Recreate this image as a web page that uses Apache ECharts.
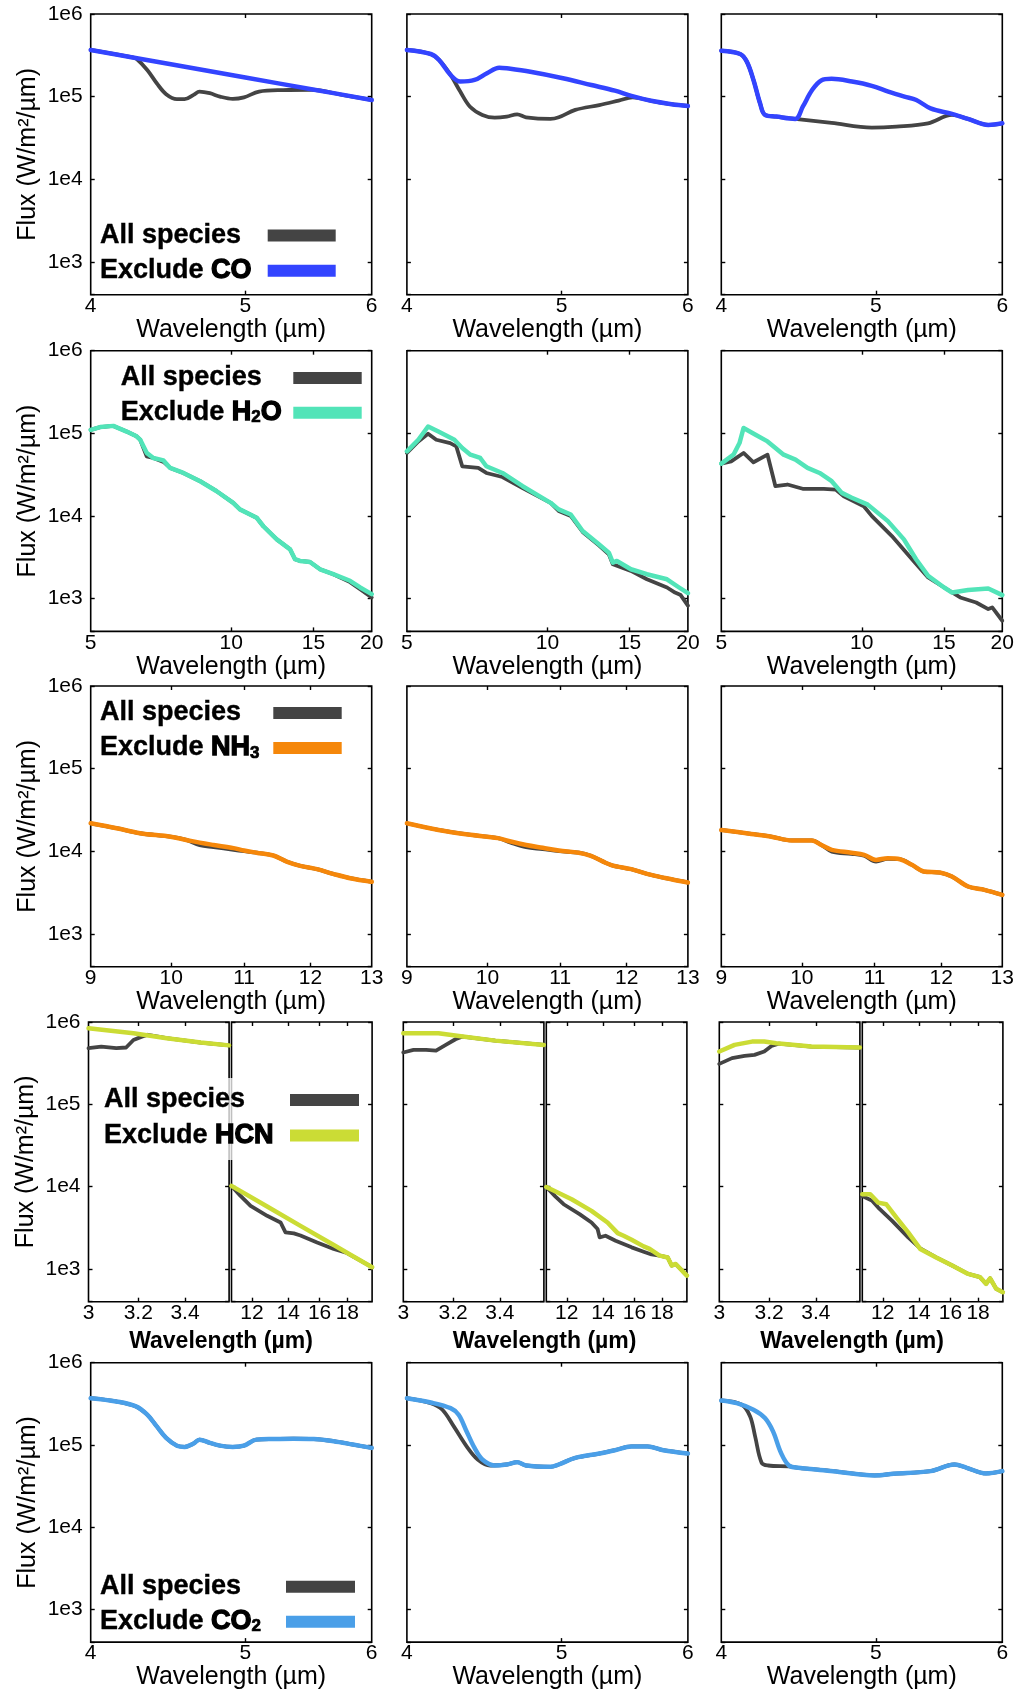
<!DOCTYPE html>
<html><head><meta charset="utf-8">
<script src="https://cdn.jsdelivr.net/npm/echarts@6.0.0/dist/echarts.min.js"></script>
<style>html,body{margin:0;padding:0;background:#fff}#c{width:1019px;height:1691px}</style>
</head><body><div id="c"></div>
<script>
// ---------------- DATA: [wavelength (µm), flux (W/m²/µm)] ----------------
// Row 1 — CO, 4–6 µm
const coAll1 = [[4,3.67e5],[4.25,2.98e5],[4.27,2.91e5],[4.34,2.1e5],[4.4,1.45e5],[4.46,1.07e5],[4.53,9.3e4],[4.58,9.3e4],[4.64,1.05e5],[4.68,1.15e5],[4.75,1.1e5],[4.82,1.0e5],[4.91,9.4e4],[4.99,9.8e4],[5.1,1.15e5],[5.28,1.2e5],[5.5,1.21e5],[5.75,1.05e5],[6,9.1e4]];
const coEx1  = [[4,3.67e5],[4.25,2.98e5],[4.5,2.45e5],[5,1.7e5],[5.5,1.23e5],[6,9.1e4]];
const coAll2 = [[4,3.67e5],[4.14,3.28e5],[4.19,2.78e5],[4.26,1.83e5],[4.32,1.15e5],[4.38,7.6e4],[4.46,6.0e4],[4.54,5.57e4],[4.62,5.73e4],[4.69,6.1e4],[4.75,5.62e4],[4.92,5.37e4],[4.98,5.62e4],[5.1,6.9e4],[5.28,7.9e4],[5.43,8.95e4],[5.54,9.8e4],[5.69,8.9e4],[5.86,8.1e4],[6,7.7e4]];
const coEx2  = [[4,3.67e5],[4.14,3.28e5],[4.19,2.78e5],[4.26,1.83e5],[4.32,1.52e5],[4.41,1.59e5],[4.49,1.92e5],[4.57,2.24e5],[4.62,2.2e5],[4.78,2.0e5],[5.01,1.67e5],[5.22,1.38e5],[5.4,1.18e5],[5.53,1.02e5],[5.69,8.9e4],[5.86,8.1e4],[6,7.7e4]];
const coAll3 = [[4,3.6e5],[4.11,3.28e5],[4.15,2.65e5],[4.19,1.59e5],[4.23,8.3e4],[4.26,6.0e4],[4.33,5.73e4],[4.45,5.37e4],[4.69,4.8e4],[4.97,4.22e4],[5.15,4.34e4],[5.39,4.75e4],[5.58,6.0e4],[5.71,5.37e4],[5.88,4.54e4],[6,4.75e4]];
const coEx3  = [[4,3.6e5],[4.11,3.28e5],[4.15,2.65e5],[4.19,1.59e5],[4.23,8.3e4],[4.26,6.0e4],[4.33,5.73e4],[4.45,5.37e4],[4.5,7.6e4],[4.56,1.2e5],[4.62,1.57e5],[4.69,1.64e5],[4.83,1.52e5],[4.97,1.35e5],[5.09,1.15e5],[5.21,1.0e5],[5.3,9.1e4],[5.41,7.2e4],[5.58,6.17e4],[5.71,5.37e4],[5.88,4.54e4],[6,4.75e4]];
// Row 2 — H2O, 5–20 µm
const h2oAll1 = [[5,1.1e5],[5.24,1.19e5],[5.59,1.23e5],[5.97,1.05e5],[6.27,9.2e4],[6.38,8.4e4],[6.59,5.27e4],[6.81,5.03e4],[7.16,4.5e4],[7.4,3.81e4],[7.9,3.31e4],[8.58,2.63e4],[9.31,1.99e4],[10.1,1.44e4],[10.44,1.2e4],[11.34,9.5e3],[11.72,7.5e3],[12.52,5.2e3],[13.37,3.94e3],[13.7,2.99e3],[14.04,2.85e3],[14.75,2.77e3],[15.5,2.26e3],[16.55,1.97e3],[17.97,1.58e3],[18.89,1.3e3],[20,1.03e3]];
const h2oEx1  = [[5,1.1e5],[5.24,1.19e5],[5.59,1.23e5],[5.97,1.05e5],[6.27,9.2e4],[6.38,8.4e4],[6.59,5.8e4],[6.81,5.03e4],[7.16,4.7e4],[7.4,3.81e4],[7.9,3.31e4],[8.58,2.63e4],[9.31,1.99e4],[10.1,1.44e4],[10.44,1.2e4],[11.34,9.5e3],[11.72,7.5e3],[12.52,5.2e3],[13.37,3.94e3],[13.7,2.99e3],[14.04,2.85e3],[14.75,2.77e3],[15.5,2.26e3],[16.55,1.97e3],[17.97,1.64e3],[18.89,1.36e3],[20,1.13e3]];
const h2oAll2 = [[5,5.78e4],[5.29,7.98e4],[5.55,9.9e4],[5.78,8.36e4],[6.19,7.62e4],[6.38,6.95e4],[6.57,3.99e4],[7.11,3.81e4],[7.4,3.31e4],[8.01,2.96e4],[8.85,2.18e4],[10.16,1.44e4],[10.57,1.15e4],[11.22,1.0e4],[11.9,6.4e3],[12.89,4.4e3],[13.54,3.43e3],[13.81,2.6e3],[15.1,2.16e3],[16.34,1.71e3],[18.04,1.36e3],[18.77,1.18e3],[19.3,1.1e3],[20,8.2e2]];
const h2oEx2  = [[5,6.05e4],[5.29,8.36e4],[5.55,1.21e5],[5.84,1.05e5],[6.32,8.36e4],[6.57,6.64e4],[6.84,5.51e4],[7.18,5.03e4],[7.4,3.99e4],[8.01,3.31e4],[8.85,2.29e4],[10.16,1.44e4],[10.57,1.2e4],[11.22,1.04e4],[11.9,6.56e3],[12.89,4.53e3],[13.54,3.59e3],[13.81,2.72e3],[14.09,2.85e3],[15.1,2.26e3],[16.34,1.97e3],[18.04,1.71e3],[19.15,1.36e3],[20,1.16e3]];
const h2oAll3 = [[5,4.3e4],[5.25,4.58e4],[5.58,5.78e4],[5.86,4.46e4],[6.28,5.51e4],[6.53,2.29e4],[6.93,2.4e4],[7.5,2.12e4],[8.29,2.12e4],[8.79,2.08e4],[9.15,1.73e4],[10.1,1.31e4],[10.51,9.95e3],[11.6,5.7e3],[12.81,2.99e3],[13.87,1.8e3],[15.01,1.36e3],[16.25,1.03e3],[17.58,8.95e2],[18.66,7.45e2],[19.03,7.8e2],[20,5.38e2]];
const h2oEx3  = [[5,4.3e4],[5.31,5.51e4],[5.47,7.62e4],[5.58,1.16e5],[5.92,9.6e4],[6.28,7.98e4],[6.8,5.51e4],[7.21,4.8e4],[7.65,3.81e4],[8.12,3.31e4],[8.62,2.63e4],[9.06,1.9e4],[9.52,1.66e4],[10.3,1.37e4],[11.37,8.65e3],[12.31,5.2e3],[13.07,2.99e3],[13.87,1.88e3],[15.01,1.36e3],[15.61,1.18e3],[16.9,1.27e3],[18.66,1.32e3],[20,1.1e3]];
// Row 3 — NH3, 9–13 µm
const nh3All1 = [[9,2.18e4],[9.31,1.9e4],[9.6,1.65e4],[9.99,1.5e4],[10.2,1.37e4],[10.38,1.18e4],[10.57,1.12e4],[10.85,1.04e4],[11,1.0e4],[11.18,9.6e3],[11.43,8.87e3],[11.63,7.5e3],[11.84,6.65e3],[12.1,6.06e3],[12.36,5.32e3],[12.64,4.71e3],[13,4.26e3]];
const nh3Ex1  = [[9,2.18e4],[9.31,1.9e4],[9.6,1.65e4],[9.99,1.5e4],[10.2,1.37e4],[10.38,1.27e4],[10.57,1.19e4],[10.85,1.09e4],[11,1.02e4],[11.18,9.6e3],[11.43,8.87e3],[11.63,7.5e3],[11.84,6.65e3],[12.1,6.06e3],[12.36,5.32e3],[12.64,4.71e3],[13,4.26e3]];
const nh3All2 = [[9,2.18e4],[9.38,1.81e4],[9.78,1.58e4],[10.14,1.44e4],[10.31,1.27e4],[10.52,1.12e4],[10.75,1.06e4],[10.98,1.0e4],[11.27,9.6e3],[11.45,8.79e3],[11.75,6.84e3],[12.07,6.06e3],[12.39,5.17e3],[12.72,4.58e3],[13,4.18e3]];
const nh3Ex2  = [[9,2.18e4],[9.38,1.81e4],[9.78,1.58e4],[10.14,1.44e4],[10.31,1.31e4],[10.52,1.19e4],[10.75,1.1e4],[10.98,1.02e4],[11.27,9.6e3],[11.45,8.79e3],[11.75,6.84e3],[12.07,6.06e3],[12.39,5.17e3],[12.72,4.58e3],[13,4.18e3]];
const nh3All3 = [[9,1.81e4],[9.36,1.62e4],[9.61,1.5e4],[9.87,1.35e4],[10.13,1.35e4],[10.26,1.19e4],[10.4,9.9e3],[10.67,9.3e3],[10.85,8.8e3],[11.02,7.5e3],[11.19,8.1e3],[11.37,8.0e3],[11.55,6.84e3],[11.73,5.68e3],[11.98,5.52e3],[12.17,4.94e3],[12.43,3.74e3],[12.7,3.41e3],[13,2.96e3]];
const nh3Ex3  = [[9,1.81e4],[9.36,1.62e4],[9.61,1.5e4],[9.87,1.35e4],[10.13,1.35e4],[10.26,1.19e4],[10.4,1.04e4],[10.67,9.6e3],[10.85,9.03e3],[11.02,7.85e3],[11.19,8.23e3],[11.37,8.0e3],[11.55,6.84e3],[11.73,5.68e3],[11.98,5.52e3],[12.17,4.94e3],[12.43,3.74e3],[12.7,3.41e3],[13,2.96e3]];
// Row 4 — HCN, broken axis 3–3.6 µm | 11–20 µm
const hcnAll1L = [[3,4.81e5],[3.05,5.03e5],[3.11,4.81e5],[3.15,4.9e5],[3.18,6.05e5],[3.215,6.64e5],[3.24,7.0e5],[3.32,6.35e5],[3.47,5.62e5],[3.6,5.2e5]];
const hcnEx1L  = [[3,8.4e5],[3.18,7.3e5],[3.32,6.35e5],[3.47,5.62e5],[3.6,5.2e5]];
const hcnAll1R = [[11,1.02e4],[11.43,7.71e3],[11.93,5.84e3],[12.8,4.42e3],[13.55,3.67e3],[13.84,2.78e3],[14.34,2.7e3],[14.75,2.55e3],[15.83,2.1e3],[16.99,1.75e3],[17.98,1.56e3],[18.5,1.4e3],[20,1.05e3]];
const hcnEx1R  = [[11,1.02e4],[12.8,5.73e3],[14.75,3.34e3],[16.99,1.95e3],[18.24,1.49e3],[20,1.05e3]];
const hcnAll2L = [[3,4.26e5],[3.04,4.58e5],[3.09,4.58e5],[3.13,4.5e5],[3.17,5.27e5],[3.21,6.17e5],[3.24,6.65e5],[3.38,5.94e5],[3.6,5.27e5]];
const hcnEx2L  = [[3,7.3e5],[3.14,7.3e5],[3.24,6.65e5],[3.38,5.94e5],[3.6,5.27e5]];
const hcnAll2R = [[11,9.9e3],[11.44,7.57e3],[11.84,6.11e3],[12.67,4.63e3],[13.33,3.67e3],[13.68,3.05e3],[13.8,2.42e3],[14.15,2.53e3],[14.77,2.2e3],[15.81,1.83e3],[16.64,1.62e3],[17.21,1.5e3],[17.81,1.45e3],[18.43,1.38e3],[18.75,1.1e3],[19.07,1.15e3],[20,8.3e2]];
const hcnEx2R  = [[11,9.9e3],[12.25,7.03e3],[13.33,5.08e3],[14.27,3.67e3],[14.9,2.72e3],[15.28,2.53e3],[15.81,2.26e3],[16.64,1.88e3],[17.07,1.75e3],[17.81,1.45e3],[18.43,1.38e3],[18.75,1.1e3],[19.07,1.15e3],[20,8.3e2]];
const hcnAll3L = [[3,3.1e5],[3.05,3.64e5],[3.1,3.88e5],[3.14,3.99e5],[3.18,4.38e5],[3.21,5.12e5],[3.24,5.45e5],[3.38,5.03e5],[3.6,4.89e5]];
const hcnEx3L  = [[3,4.38e5],[3.06,5.27e5],[3.13,5.78e5],[3.18,5.78e5],[3.23,5.52e5],[3.38,5.03e5],[3.6,4.89e5]];
const hcnAll3R = [[11,7.71e3],[11.48,6.71e3],[11.77,5.57e3],[12.49,3.84e3],[13.37,2.42e3],[14.07,1.78e3],[15.06,1.38e3],[16.12,1.1e3],[17.25,8.7e2],[18.15,7.94e2],[18.62,6.59e2],[18.94,7.7e2],[19.44,5.73e2],[20,5.22e2]];
const hcnEx3R  = [[11,8.07e3],[11.38,8.07e3],[11.77,6.4e3],[12.18,6.11e3],[12.71,4.22e3],[13.37,2.78e3],[14.07,1.75e3],[15.06,1.38e3],[16.12,1.1e3],[17.25,8.7e2],[18.15,7.94e2],[18.62,6.59e2],[18.94,7.7e2],[19.44,5.73e2],[20,5.22e2]];
// Row 5 — CO2, 4–6 µm
const co2All1 = [[4,3.7e5],[4.15,3.38e5],[4.27,2.94e5],[4.34,2.33e5],[4.4,1.68e5],[4.46,1.22e5],[4.53,9.8e4],[4.58,9.46e4],[4.64,1.04e5],[4.68,1.16e5],[4.75,1.06e5],[4.82,9.8e4],[4.91,9.46e4],[4.99,9.8e4],[5.08,1.16e5],[5.21,1.18e5],[5.36,1.19e5],[5.52,1.18e5],[5.68,1.11e5],[5.84,1.01e5],[6,9.2e4]];
const co2Ex1  = [[4,3.7e5],[4.15,3.38e5],[4.27,2.94e5],[4.34,2.33e5],[4.4,1.68e5],[4.46,1.22e5],[4.53,9.8e4],[4.58,9.46e4],[4.64,1.04e5],[4.68,1.16e5],[4.75,1.06e5],[4.82,9.8e4],[4.91,9.46e4],[4.99,9.8e4],[5.08,1.16e5],[5.21,1.18e5],[5.36,1.19e5],[5.52,1.18e5],[5.68,1.11e5],[5.84,1.01e5],[6,9.2e4]];
const co2All2 = [[4,3.7e5],[4.14,3.22e5],[4.21,2.68e5],[4.28,1.68e5],[4.36,9.6e4],[4.43,6.65e4],[4.51,5.62e4],[4.62,5.78e4],[4.69,6.17e4],[4.75,5.62e4],[4.92,5.42e4],[4.98,5.78e4],[5.1,6.96e4],[5.28,7.86e4],[5.4,8.62e4],[5.53,9.6e4],[5.66,9.6e4],[5.79,8.62e4],[6,7.86e4]];
const co2Ex2  = [[4,3.7e5],[4.14,3.28e5],[4.26,2.8e5],[4.31,2.33e5],[4.36,1.46e5],[4.41,9.2e4],[4.46,6.65e4],[4.54,5.62e4],[4.62,5.78e4],[4.69,6.17e4],[4.75,5.62e4],[4.92,5.42e4],[4.98,5.78e4],[5.1,6.96e4],[5.28,7.86e4],[5.4,8.62e4],[5.53,9.6e4],[5.66,9.6e4],[5.79,8.62e4],[6,7.86e4]];
const co2All3 = [[4,3.47e5],[4.12,3.08e5],[4.17,2.22e5],[4.2,1.27e5],[4.24,6.05e4],[4.28,5.62e4],[4.41,5.47e4],[4.47,5.27e4],[4.7,4.8e4],[4.99,4.26e4],[5.13,4.46e4],[5.41,4.8e4],[5.6,5.78e4],[5.7,5.27e4],[5.86,4.5e4],[6,4.8e4]];
const co2Ex3  = [[4,3.47e5],[4.09,3.22e5],[4.19,2.68e5],[4.26,2.12e5],[4.31,1.46e5],[4.36,8.0e4],[4.41,5.62e4],[4.47,5.27e4],[4.7,4.8e4],[4.99,4.26e4],[5.13,4.46e4],[5.41,4.8e4],[5.6,5.78e4],[5.7,5.27e4],[5.86,4.5e4],[6,4.8e4]];

// tick labels
const xLab46 = [4,5,6], xTick46 = [5];
const xLab520 = [5,10,15,20], xTick520 = [10,15];
const xLab913 = [9,10,11,12,13], xTick913 = [10,11,12];
const xLabL = [3,3.2,3.4], xTickL = [3.2,3.4];
const xLabR = [12,14,16,18], xTickR = [12,14,16,18];
const yTickLabels = ['1e3','1e4','1e5','1e6'];

// ---------------- LAYOUT / STYLE ----------------
const FONT = '"Liberation Sans", Arial, Helvetica, sans-serif';
const GRAY = '#444444';
const COLORS = {CO:'#3344ff', H2O:'#52e4b8', NH3:'#f5870a', HCN:'#cbdc35', CO2:'#4a9fe8'};
const colLeft = [90.7, 406.9, 721.3], panelW = 281, panelH = 280.7;
const rowTop = [14, 350.7, 686, 1022, 1362.7];
const brkLeft = [88.5, 403.3, 719.3], subW = 140.6, subGap = 2.4;

const lx = Math.log10;
const grids = [], xAxes = [], yAxes = [], series = [], graphics = [];

function fmtX(v){ return String(Math.round(Math.pow(10, v) * 10) / 10); }
function fmtY(v){ const e = Math.log10(v), r = Math.round(e); return Math.abs(e - r) < 1e-6 && r >= 3 ? yTickLabels[r - 3] : ''; }

function addPanel(p){
  const gi = grids.length;
  grids.push({left:p.left, top:p.top, width:p.width, height:p.height, show:true, borderColor:'#000', borderWidth:1.6, backgroundColor:'transparent'});
  const tick = {show:true, inside:true, length:4, customValues:p.ticks.map(lx), lineStyle:{color:'#000', width:1.4}};
  const base = {type:'value', gridIndex:gi, min:lx(p.xmin), max:lx(p.xmax), splitLine:{show:false}, axisLine:{show:false}};
  xAxes.push(Object.assign({}, base, {position:'bottom', axisTick:tick,
    axisLabel:{show:true, customValues:p.labels.map(lx), formatter:fmtX, fontSize:21, color:'#000', fontFamily:FONT, margin:1},
    name:p.xName || '', nameLocation:'middle', nameGap:15, nameTextStyle:{fontSize:25, color:'#000', fontFamily:FONT}}));
  xAxes.push(Object.assign({}, base, {position:'top', axisTick:tick, axisLabel:{show:false}}));
  const ybase = {type:'log', gridIndex:gi, min:400, max:1e6, splitLine:{show:false}, axisLine:{show:false},
    axisTick:{show:true, inside:true, length:4, lineStyle:{color:'#000', width:1.4}}};
  yAxes.push(Object.assign({}, ybase, {position:'left',
    axisLabel:{show:!!p.yLabels, formatter:fmtY, fontSize:21, color:'#000', fontFamily:FONT, margin:8, showMaxLabel:true, showMinLabel:true},
    name:p.yName || '', nameLocation:'middle', nameRotate:90, nameGap:50, nameTextStyle:{fontSize:25, color:'#000', fontFamily:FONT}}));
  yAxes.push(Object.assign({}, ybase, {position:'right', axisLabel:{show:false}}));
  const xi = xAxes.length - 2, yi = yAxes.length - 2;
  p.lines.forEach(l => series.push({type:'line', name:l.name, xAxisIndex:xi, yAxisIndex:yi,
    data:l.data.map(d => [lx(d[0]), d[1]]), symbol:'none', showSymbol:false, silent:true, clip:true,
    smooth:p.smooth ? 0.35 : false, lineStyle:{color:l.color, width:l.width, join:'round', cap:'round'}, itemStyle:{color:l.color}}));
}

function legendBlock(x, y1, y2, s0, s1, color, speciesRich){
  const rich = {
    n:{fontSize:27, fontWeight:'bold', fontFamily:FONT, fill:'#000', stroke:'#000', lineWidth:0.4},
    b:{fontSize:27, fontWeight:'bold', fontFamily:FONT, fill:'#000', stroke:'#000', lineWidth:1.3},
    s:{fontSize:17, fontWeight:'bold', fontFamily:FONT, fill:'#000', stroke:'#000', lineWidth:0.7, verticalAlign:'bottom'}
  };
  graphics.push({type:'text', x:x, y:y1, z:20, style:{text:'{n|All species}', rich:rich, verticalAlign:'middle', align:'left'}});
  graphics.push({type:'text', x:x, y:y2, z:20, style:{text:'{n|Exclude }' + speciesRich, rich:rich, verticalAlign:'middle', align:'left'}});
  graphics.push({type:'rect', z:20, shape:{x:s0, y:y1 - 6, width:s1 - s0, height:12}, style:{fill:GRAY}});
  graphics.push({type:'rect', z:20, shape:{x:s0, y:y2 - 6, width:s1 - s0, height:12}, style:{fill:color}});
}

const WL = 'Wavelength (µm)';
const YT = 'Flux (W/m²/µm)';

// Standard rows
const stdRows = [
  {r:0, xmin:4, xmax:6, labels:xLab46, ticks:xTick46, sp:'CO', smooth:true, data:[[coAll1,coEx1],[coAll2,coEx2],[coAll3,coEx3]]},
  {r:1, xmin:5, xmax:20, labels:xLab520, ticks:xTick520, sp:'H2O', smooth:false, data:[[h2oAll1,h2oEx1],[h2oAll2,h2oEx2],[h2oAll3,h2oEx3]]},
  {r:2, xmin:9, xmax:13, labels:xLab913, ticks:xTick913, sp:'NH3', smooth:true, data:[[nh3All1,nh3Ex1],[nh3All2,nh3Ex2],[nh3All3,nh3Ex3]]},
  {r:4, xmin:4, xmax:6, labels:xLab46, ticks:xTick46, sp:'CO2', smooth:true, data:[[co2All1,co2Ex1],[co2All2,co2Ex2],[co2All3,co2Ex3]]}
];
stdRows.forEach(row => {
  for (let c = 0; c < 3; c++){
    addPanel({left:colLeft[c], top:rowTop[row.r], width:panelW, height:panelH, xmin:row.xmin, xmax:row.xmax,
      labels:row.labels, ticks:row.ticks, xName:WL, yName:c === 0 ? YT : '', yLabels:c === 0, smooth:row.smooth,
      lines:[{name:'All species', data:row.data[c][0], color:GRAY, width:3.8},
             {name:'Exclude ' + row.sp, data:row.data[c][1], color:COLORS[row.sp], width:4.5}]});
  }
});

// Broken-axis row (HCN)
const hcnData = [[hcnAll1L,hcnEx1L,hcnAll1R,hcnEx1R],[hcnAll2L,hcnEx2L,hcnAll2R,hcnEx2R],[hcnAll3L,hcnEx3L,hcnAll3R,hcnEx3R]];
const hcnTitleX = [221, 544.6, 852];
for (let c = 0; c < 3; c++){
  const d = hcnData[c];
  addPanel({left:brkLeft[c], top:rowTop[3], width:subW, height:279.7, xmin:3, xmax:3.6, labels:xLabL, ticks:xTickL,
    yName:c === 0 ? YT : '', yLabels:c === 0, smooth:false,
    lines:[{name:'All species', data:d[0], color:GRAY, width:3.8},{name:'Exclude HCN', data:d[1], color:COLORS.HCN, width:4.5}]});
  addPanel({left:brkLeft[c] + subW + subGap, top:rowTop[3], width:subW, height:279.7, xmin:11, xmax:20, labels:xLabR, ticks:xTickR,
    yLabels:false, smooth:false,
    lines:[{name:'All species', data:d[2], color:GRAY, width:3.8},{name:'Exclude HCN', data:d[3], color:COLORS.HCN, width:4.5}]});
  graphics.push({type:'text', x:hcnTitleX[c], y:1342, z:20, style:{text:WL, fontSize:23, fontWeight:'bold', fontFamily:FONT, fill:'#000', align:'center', verticalAlign:'middle'}});
}

// Legends
legendBlock(100, 235.5, 270.7, 267.7, 335.7, COLORS.CO, '{b|CO}');
legendBlock(120.7, 378, 412.7, 293.3, 361.7, COLORS.H2O, '{b|H}{s|2}{b|O}');
legendBlock(100, 713, 748, 273.3, 341.7, COLORS.NH3, '{b|NH}{s|3}');
graphics.push({type:'rect', z:15, shape:{x:100, y:1078, width:265, height:82}, style:{fill:'rgba(255,255,255,0.75)'}});
legendBlock(104, 1100, 1135.5, 290, 359, COLORS.HCN, '{b|HCN}');
legendBlock(100, 1586.7, 1621.7, 286, 355, COLORS.CO2, '{b|CO}{s|2}');

const chart = echarts.init(document.getElementById('c'), null, {renderer:'canvas'});
chart.setOption({
  animation:false,
  backgroundColor:'#fff',
  grid:grids, xAxis:xAxes, yAxis:yAxes, series:series,
  graphic:{elements:graphics}
});
</script></body></html>
